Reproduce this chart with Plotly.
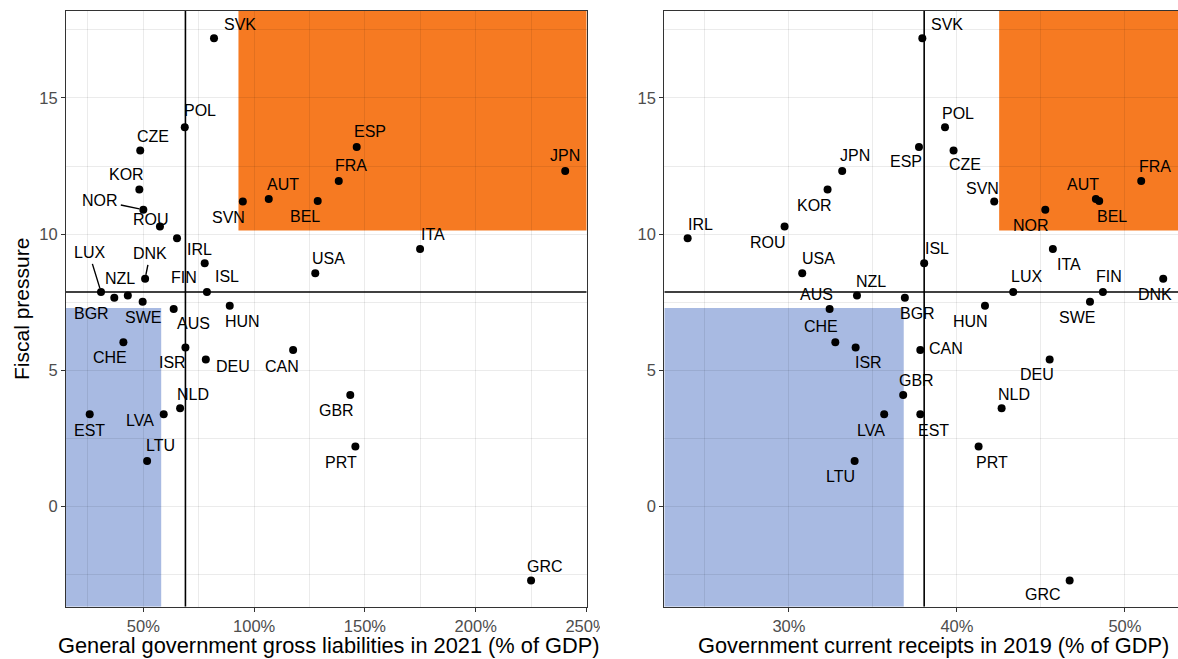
import numpy as np
import plotly.graph_objects as go

# ---------------- data ----------------
countries = ["SVK", "POL", "CZE", "KOR", "NOR", "ROU", "IRL", "ISL", "FIN", "LUX",
             "DNK", "NZL", "BGR", "SWE", "AUS", "HUN", "USA", "SVN", "AUT", "BEL",
             "FRA", "ESP", "JPN", "ITA", "CHE", "ISR", "DEU", "CAN", "NLD", "LVA",
             "EST", "LTU", "GBR", "PRT", "GRC"]
liabilities_2021 = [81.9, 68.7, 48.6, 48.2, 50.0, 57.5, 65.2, 77.7, 78.7, 30.9,
                    50.8, 43.0, 36.9, 49.7, 63.7, 89.0, 127.6, 94.9, 106.6, 128.7,
                    138.2, 146.3, 240.4, 174.9, 41.0, 69.0, 78.2, 117.6, 66.6, 59.2,
                    25.8, 51.7, 143.4, 145.7, 225.0]
receipts_2019 = [37.94, 39.29, 39.80, 32.30, 45.26, 29.74, 23.97, 38.05, 48.69, 43.35,
                 52.28, 34.05, 36.90, 47.92, 32.42, 41.67, 30.79, 42.22, 48.27, 48.47,
                 50.97, 37.74, 33.17, 45.71, 32.76, 33.97, 45.52, 37.82, 42.66, 35.67,
                 37.82, 33.91, 36.80, 41.29, 46.71]
fiscal_pressure = [17.19, 13.92, 13.07, 11.64, 10.90, 10.28, 9.85, 8.93, 7.88, 7.88,
                   8.36, 7.75, 7.67, 7.52, 7.25, 7.37, 8.57, 11.20, 11.29, 11.22,
                   11.95, 13.20, 12.32, 9.46, 6.03, 5.84, 5.40, 5.75, 3.61, 3.39,
                   3.39, 1.68, 4.10, 2.21, -2.71]

left_x_ticks = [50, 100, 150, 200, 250]
right_x_ticks = [30, 40, 50]
y_ticks = [0, 5, 10, 15]

x_title_left = "General government gross liabilities in 2021 (% of GDP)"
x_title_right = "Government current receipts in 2019 (% of GDP)"
y_title = "Fiscal pressure"

# ---------------- label placement (pixel offsets, screen coords) ----------------
left_offsets = {
    "SVK": (26, -14), "POL": (15, -17), "CZE": (13, -14), "KOR": (-13, -15),
    "NOR": (-43, -9), "ROU": (-9, -7), "IRL": (22, 11), "ISL": (22, 13),
    "FIN": (-23, -14), "LUX": (-12, -39), "DNK": (5, -25), "NZL": (-8, -17),
    "BGR": (-23, 16), "SWE": (0, 16), "AUS": (20, 14), "HUN": (13, 16),
    "USA": (13, -15), "SVN": (-14, 16), "AUT": (14, -15), "BEL": (-13, 16),
    "FRA": (12, -16), "ESP": (13, -15), "JPN": (0, -15), "ITA": (13, -14),
    "CHE": (-13, 15), "ISR": (-13, 15), "DEU": (27, 7), "CAN": (-11, 16),
    "NLD": (13, -14), "LVA": (-24, 6), "EST": (0, 16), "LTU": (13, -15),
    "GBR": (-14, 16), "PRT": (-14, 16), "GRC": (14, -14),
}
left_segments = {"NOR", "LUX", "DNK"}
right_offsets = {
    "IRL": (13, -14), "ROU": (-17, 16), "KOR": (-13, 16), "JPN": (13, -15),
    "USA": (16, -15), "NZL": (14, -14), "AUS": (-13, -15), "ESP": (-13, 15),
    "BGR": (13, 16), "CHE": (-14, -16), "ISR": (13, 15), "GBR": (13, -14),
    "LVA": (-13, 16), "LTU": (-14, 16), "CAN": (26, -2), "EST": (13, 16),
    "NLD": (12, -14), "DEU": (-13, 15), "PRT": (13, 16), "GRC": (-27, 14),
    "HUN": (-14, 16), "SWE": (-13, 16), "SVK": (25, -14), "POL": (13, -14),
    "CZE": (11, 14), "SVN": (-12, -13), "NOR": (-14, 16), "AUT": (-13, -15),
    "BEL": (13, 16), "FRA": (14, -15), "ISL": (13, -15), "ITA": (16, 16),
    "LUX": (13, -15), "FIN": (6, -15), "DNK": (-8, 16),
}

# ---------------- layout geometry ----------------
W, H = 1178, 659
FONT = "Liberation Sans, Arial, Helvetica, sans-serif"
left_dom = [66 / W, 586.7 / W]
right_dom = [664.3 / W, 1.0]
y_dom = [1 - 606.7 / H, 1 - 11 / H]
left_range = [15.1, 250.1]
right_range = [22.58, 53.16]
y_range = [-3.67, 18.19]

ORANGE = "#F67A22"
BLUE = "#A8BAE2"

fig = go.Figure()

panels = [
    ("x", "y", liabilities_2021, left_range, left_offsets, left_segments),
    ("x2", "y2", receipts_2019, right_range, right_offsets, set()),
]

shapes = []
annotations = []
for xr, yr, xs, xrange_, offsets, segs in panels:
    xs_arr = np.array(xs)
    ys_arr = np.array(fiscal_pressure)
    xq1, xq2 = np.quantile(xs_arr, [1 / 3, 2 / 3])
    yq1, yq2 = np.quantile(ys_arr, [1 / 3, 2 / 3])
    xmed = float(np.median(xs_arr))
    ymed = float(np.median(ys_arr))
    # low-low tercile box
    shapes.append(dict(type="rect", xref=xr, yref=yr, layer="below",
                       x0=xrange_[0], x1=xq1, y0=y_range[0], y1=yq1,
                       fillcolor=BLUE, line=dict(width=0)))
    # high-high tercile box
    shapes.append(dict(type="rect", xref=xr, yref=yr, layer="below",
                       x0=xq2, x1=xrange_[1], y0=yq2, y1=y_range[1],
                       fillcolor=ORANGE, line=dict(width=0)))
    # median lines
    shapes.append(dict(type="line", xref=xr, yref=yr, layer="above",
                       x0=xmed, x1=xmed, y0=y_range[0], y1=y_range[1],
                       line=dict(color="black", width=1.6)))
    shapes.append(dict(type="line", xref=xr, yref=yr, layer="above",
                       x0=xrange_[0], x1=xrange_[1], y0=ymed, y1=ymed,
                       line=dict(color="black", width=1.6)))

    fig.add_trace(go.Scatter(x=xs, y=fiscal_pressure, xaxis=xr, yaxis=yr,
                             mode="markers", text=countries,
                             marker=dict(color="black", size=8, line=dict(width=0)),
                             showlegend=False, hoverinfo="text"))
    for c, xv, yv in zip(countries, xs, fiscal_pressure):
        dx, dy = offsets[c]
        if c in segs:
            annotations.append(dict(x=xv, y=yv, xref=xr, yref=yr, text=c,
                                    showarrow=True, ax=dx, ay=dy, axref="pixel", ayref="pixel",
                                    arrowhead=0, arrowwidth=1.4, arrowcolor="black",
                                    standoff=4, startstandoff=1,
                                    xanchor="center", yanchor="middle",
                                    font=dict(family=FONT, size=16, color="black")))
        else:
            annotations.append(dict(x=xv, y=yv, xref=xr, yref=yr, text=c,
                                    showarrow=False, xshift=dx, yshift=-dy,
                                    xanchor="center", yanchor="middle",
                                    font=dict(family=FONT, size=16, color="black")))

# axis titles
annotations.append(dict(x=328.5 / W, y=1 - 645 / H, xref="paper", yref="paper",
                        text=x_title_left, showarrow=False, xanchor="center", yanchor="middle",
                        font=dict(family=FONT, size=21.8, color="black")))
annotations.append(dict(x=933 / W, y=1 - 645 / H, xref="paper", yref="paper",
                        text=x_title_right, showarrow=False, xanchor="center", yanchor="middle",
                        font=dict(family=FONT, size=21.8, color="black")))
annotations.append(dict(x=22 / W, y=1 - 309 / H, xref="paper", yref="paper",
                        text=y_title, showarrow=False, textangle=-90,
                        xanchor="center", yanchor="middle",
                        font=dict(family=FONT, size=21, color="black")))

# the reference clips the last left-panel tick label at the panel gap
shapes.append(dict(type="rect", xref="paper", yref="paper", layer="above",
                   x0=600 / W, x1=650 / W, y0=1 - 634 / H, y1=1 - 612 / H,
                   fillcolor="white", line=dict(width=0)))

GRID = "rgba(0,0,0,0.078)"
AX = "#333333"
TICKFONT = dict(family=FONT, size=16.5, color="#4D4D4D")


def xaxis(dom, rng, ticks, mirror, anchor):
    step = ticks[1] - ticks[0]
    return dict(domain=dom, range=rng, tickmode="array", tickvals=ticks,
                ticktext=[f"{t}%" for t in ticks],
                showgrid=True, gridcolor=GRID, gridwidth=1.1, zeroline=False,
                minor=dict(tickmode="linear", dtick=step, tick0=ticks[0] - step / 2,
                           showgrid=True, gridcolor=GRID, gridwidth=0.55, ticks=""),
                showline=True, linecolor=AX, linewidth=1.1, mirror=mirror,
                ticks="outside", ticklen=4, tickwidth=1.1, tickcolor=AX,
                tickfont=TICKFONT, anchor=anchor, fixedrange=True)


def yaxis(mirror, anchor):
    return dict(domain=y_dom, range=y_range, tickmode="array", tickvals=y_ticks,
                ticktext=[str(t) for t in y_ticks],
                showgrid=True, gridcolor=GRID, gridwidth=1.1, zeroline=False,
                minor=dict(tickmode="linear", dtick=5, tick0=2.5, showgrid=True,
                           gridcolor=GRID, gridwidth=0.55, ticks=""),
                showline=True, linecolor=AX, linewidth=1.1, mirror=mirror,
                ticks="outside", ticklen=4, tickwidth=1.1, tickcolor=AX,
                tickfont=TICKFONT, anchor=anchor, fixedrange=True)


fig.update_layout(
    width=W, height=H,
    margin=dict(l=0, r=0, t=0, b=0, autoexpand=False),
    paper_bgcolor="white", plot_bgcolor="white",
    xaxis=xaxis(left_dom, left_range, left_x_ticks, True, "y"),
    yaxis=yaxis(True, "x"),
    xaxis2=xaxis(right_dom, right_range, right_x_ticks, True, "y2"),
    yaxis2=yaxis(False, "x2"),
    shapes=shapes,
    annotations=annotations,
    showlegend=False,
    font=dict(family=FONT),
)

fig.write_html("out.html", config={"displayModeBar": False},
               post_script="document.body.style.margin='0';document.body.style.overflow='hidden';")
